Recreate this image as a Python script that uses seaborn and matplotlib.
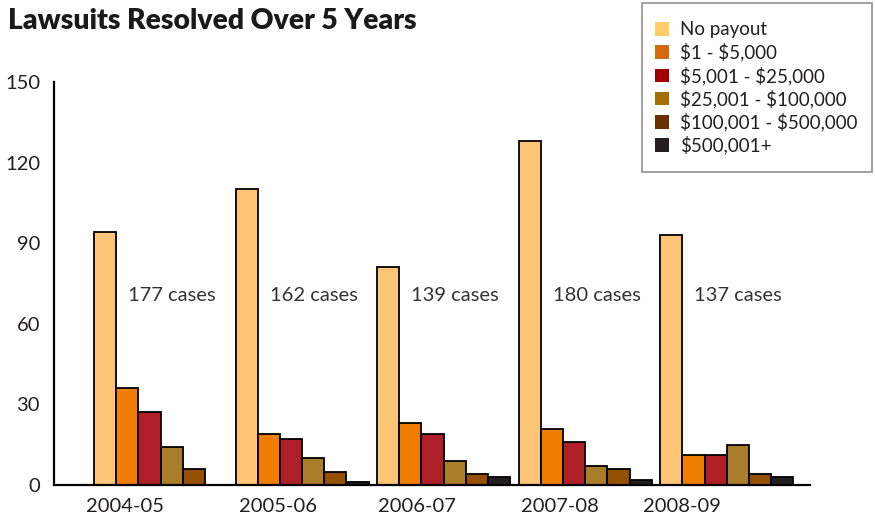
import pandas as pd
import numpy as np
import matplotlib
matplotlib.use('Agg')
import matplotlib.pyplot as plt
from matplotlib.patches import Patch, Rectangle
import seaborn as sns

years = ['2004-05', '2005-06', '2006-07', '2007-08', '2008-09']
payout_bands = ['No payout', r'\$1 - \$5,000', r'\$5,001 - \$25,000',
                r'\$25,001 - \$100,000', r'\$100,001 - \$500,000', r'\$500,001+']
no_payout = [94, 110, 81, 128, 93]
band_1_5k = [36, 19, 23, 21, 11]
band_5k_25k = [27, 17, 19, 16, 11]
band_25k_100k = [14, 10, 9, 7, 15]
band_100k_500k = [6, 5, 4, 6, 4]
band_500k_plus = [0, 1, 3, 2, 3]
total_cases = [177, 162, 139, 180, 137]

bar_colors = ['#FFC577', '#EE7D00', '#AE1F28', '#A97D2B', '#954F00', '#231F20']
legend_colors = ['#FFCC66', '#D46A0C', '#A00000', '#A86D00', '#6B3000', '#231F20']
label_shift = [-0.25, -0.17, -0.19, -0.18, -0.32]   # odd placement of year labels in the original

series = [no_payout, band_1_5k, band_5k_25k, band_25k_100k, band_100k_500k, band_500k_plus]
rows = []
for band, vals in zip(payout_bands, series):
    for yr, v in zip(years, vals):
        rows.append([yr, band, v])
df = pd.DataFrame(rows, columns=['Year', 'Band', 'Cases'])

sns.set_style('white')
plt.rcParams['font.family'] = ['Lato', 'DejaVu Sans']
txtcol = '#231F20'

fig = plt.figure(figsize=(8.75, 5.2), dpi=100)
ax = fig.add_axes([0.0617, 0.0673, 0.8643, 0.775])
sns.barplot(data=df, x='Year', y='Cases', hue='Band', hue_order=payout_bands, order=years,
            palette=bar_colors, saturation=1, width=0.94, edgecolor='black', linewidth=1.3,
            legend=False, ax=ax)

ax.set_ylim(0, 150)
ax.set_xlim(-0.753, 4.59)
ax.set_yticks([0, 30, 60, 90, 120, 150])
ax.tick_params(axis='y', direction='in', length=12, width=1.3, pad=10,
               labelsize=14.5, labelcolor=txtcol, color='black')
ax.set_xticks(np.arange(len(years)) + np.array(label_shift))
ax.set_xticklabels(years)
ax.tick_params(axis='x', length=0, pad=9, labelsize=14.5, labelcolor=txtcol)
ax.set_xlabel('')
ax.set_ylabel('')
for s in ['top', 'right']:
    ax.spines[s].set_visible(False)
for s in ['left', 'bottom']:
    ax.spines[s].set_color('black')
    ax.spines[s].set_linewidth(1.6)

for i, n in enumerate(total_cases):
    ax.text(i - 0.23, 70.7, f'{n} cases', ha='left', va='center', fontsize=14.5, color='#333333')

fig.text(0.009, 0.985, 'Lawsuits Resolved Over 5 Years', ha='left', va='top',
         fontsize=20.3, fontweight='heavy', color='#1a1a1a')

# legend box is taller than the entries need, so the frame is drawn separately
fig.patches.append(Rectangle((642 / 875, 1 - 172 / 520), 230 / 875, 169 / 520,
                             transform=fig.transFigure, fill=False,
                             edgecolor='#999999', linewidth=1.3))
handles = [Patch(facecolor=c, edgecolor='none') for c in legend_colors]
leg = fig.legend(handles, payout_bands, loc='upper left', bbox_to_anchor=(655 / 875, 1 - 21.5 / 520),
                 fontsize=13.5, frameon=False, handlelength=0.75, handleheight=0.75,
                 handletextpad=0.6, labelspacing=0.245, borderpad=0, borderaxespad=0)
for t in leg.get_texts():
    t.set_color(txtcol)

plt.savefig('out.png', dpi=100)
plt.close()
